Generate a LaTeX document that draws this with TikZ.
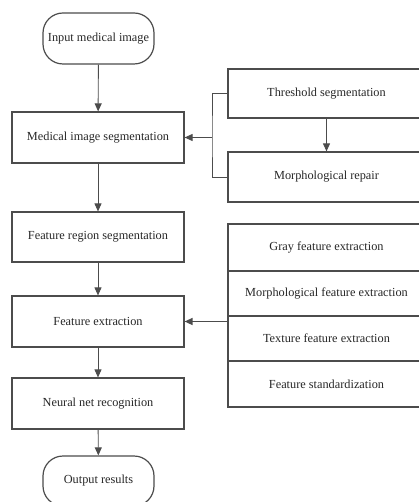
\documentclass[tikz,border=0pt]{standalone}
\usepackage{fontspec}
\setmainfont{Liberation Serif}
\usetikzlibrary{arrows.meta}
\begin{document}
\begin{tikzpicture}[x=1pt,y=-1pt,
  lc/.style={draw=black!70,line width=1.2pt},
  box/.style={lc,rectangle,inner sep=0pt,font=\fontsize{12.3}{14}\selectfont,text=black!85},
  term/.style={box,rounded corners=20pt},
  arr/.style={draw=black!70,line width=0.9pt,-{Triangle[length=8pt,width=7pt]}},
  ln/.style={draw=black!70,line width=0.9pt}]
\useasboundingbox (0,0) rectangle (419,502);
\clip (0,0) rectangle (419,502);
% left column
\node[term,minimum width=111pt,minimum height=51pt] (in) at (98.5,38.5) {Input medical image};
\node[box,minimum width=172pt,minimum height=51pt] (mis) at (98,137.5) {Medical image segmentation};
\node[box,minimum width=172pt,minimum height=50pt] (frs) at (98,237) {Feature region segmentation};
\node[box,minimum width=172pt,minimum height=51pt] (fe) at (98,321.5) {Feature extraction};
\node[box,minimum width=172pt,minimum height=51pt] (nnr) at (98,403.5) {Neural net recognition};
\node[term,minimum width=111pt,minimum height=50pt] (out) at (98.5,481) {Output results};
% right column
\node[box,minimum width=197pt,minimum height=49pt] (ts) at (326.5,93.5) {Threshold segmentation};
\node[box,minimum width=197pt,minimum height=50pt] (mr) at (326.5,177) {Morphological repair};
\node[box,minimum width=197pt,minimum height=47pt] (gfe) at (326.5,247.5) {Gray feature extraction};
\node[box,minimum width=197pt,minimum height=45pt] (mfe) at (326.5,293.5) {Morphological feature extraction};
\node[box,minimum width=197pt,minimum height=45pt] (tfe) at (326.5,338.5) {Texture feature extraction};
\node[box,minimum width=197pt,minimum height=46pt] (fs) at (326.5,384) {Feature standardization};
% connectors
\draw[arr] (in) -- (mis);
\draw[arr] (mis) -- (frs);
\draw[arr] (frs) -- (fe);
\draw[arr] (fe) -- (nnr);
\draw[arr] (nnr) -- (out);
\draw[arr] (ts) -- (mr);
\coordinate (bk) at (212,137.5);
\draw[ln] (ts.west) -| (bk) |- (mr.west);
\draw[arr] (bk) -- (mis.east);
\coordinate (fk) at (228,321.5);
\draw[arr,line width=1.4pt] (fk) -- (fe.east);
\end{tikzpicture}
\end{document}
